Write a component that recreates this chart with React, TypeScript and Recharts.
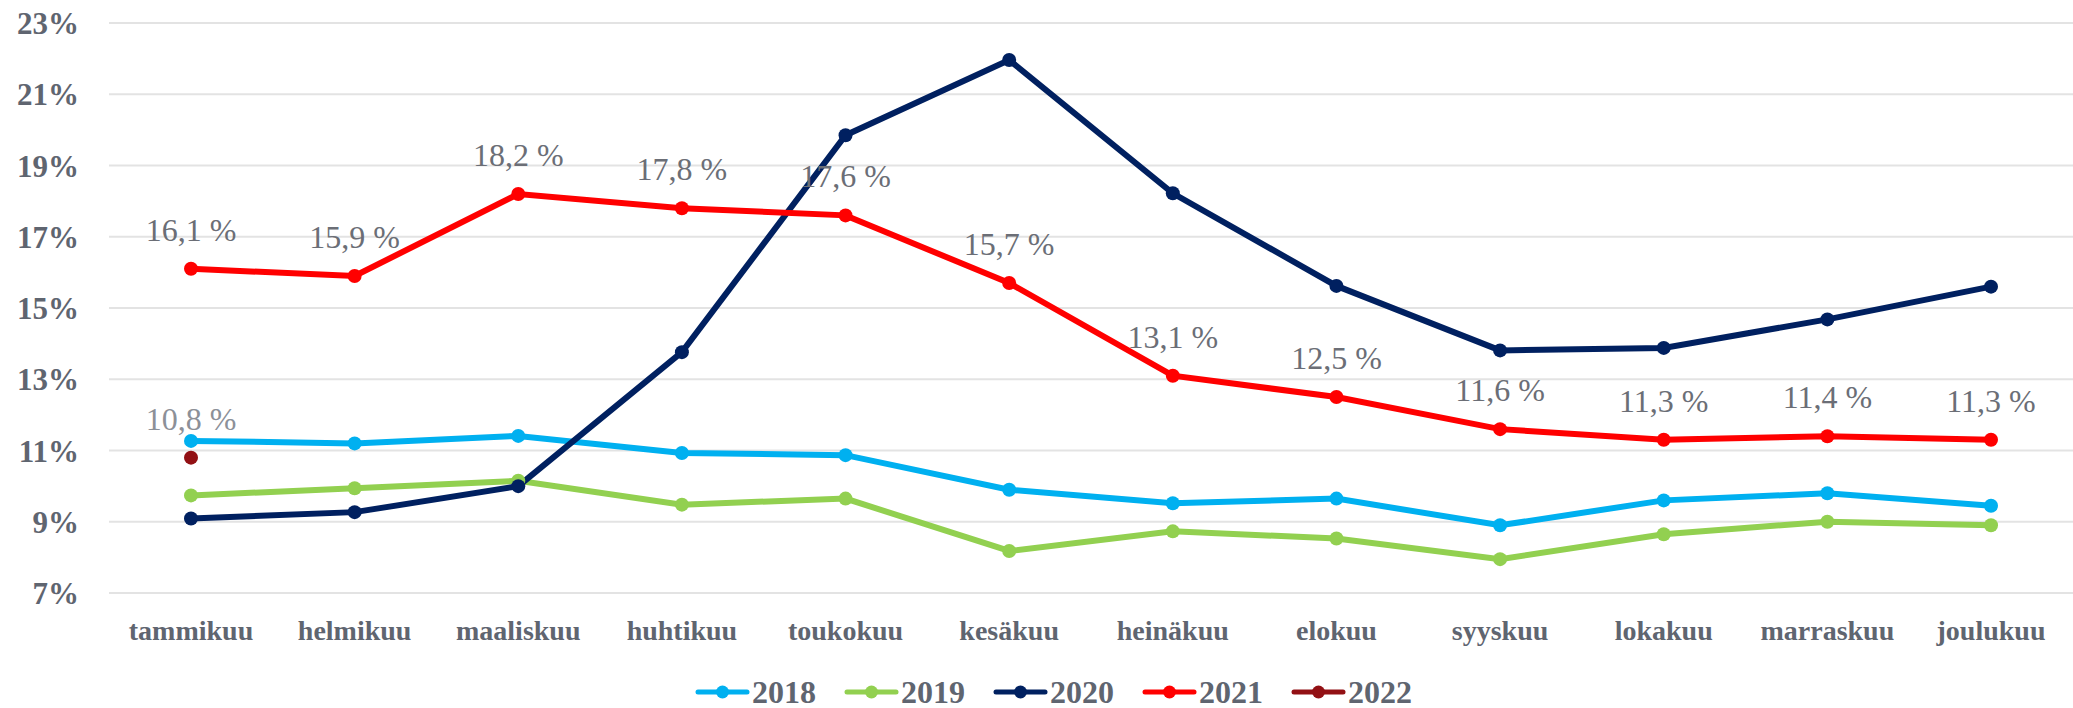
import React from 'react';
import { LineChart, Line, XAxis, YAxis, CartesianGrid, Legend, LabelList } from 'recharts';

const months = ['tammikuu', 'helmikuu', 'maaliskuu', 'huhtikuu', 'toukokuu', 'kesäkuu', 'heinäkuu', 'elokuu', 'syyskuu', 'lokakuu', 'marraskuu', 'joulukuu'];
const v2018 = [11.27, 11.2, 11.41, 10.93, 10.87, 9.9, 9.52, 9.65, 8.9, 9.6, 9.8, 9.45];
const v2019 = [9.74, 9.94, 10.15, 9.48, 9.65, 8.18, 8.73, 8.53, 7.95, 8.65, 9.0, 8.9];
const v2020 = [9.09, 9.27, 10.0, 13.76, 19.85, 21.96, 18.22, 15.62, 13.81, 13.88, 14.68, 15.6];
const v2021 = [16.1, 15.9, 18.2, 17.8, 17.6, 15.7, 13.1, 12.5, 11.6, 11.3, 11.4, 11.3];
const v2022 = [10.8, null, null, null, null, null, null, null, null, null, null, null];
const yTicks = [7, 9, 11, 13, 15, 17, 19, 21, 23];

const series = [
  { key: 'y2018', name: '2018', color: '#00b0f0' },
  { key: 'y2019', name: '2019', color: '#92d050' },
  { key: 'y2020', name: '2020', color: '#002060' },
  { key: 'y2021', name: '2021', color: '#ff0000' },
  { key: 'y2022', name: '2022', color: '#921014' },
];

const data = months.map((m, i) => ({
  month: m,
  y2018: v2018[i],
  y2019: v2019[i],
  y2020: v2020[i],
  y2021: v2021[i],
  y2022: v2022[i],
}));

const FONT = '"Liberation Serif", serif';
const TEXT_GRAY = '#5f6570';

// label above a point, e.g. "16,1 %"
const makeLabel = (color: string) => (props: any) => {
  const { x, y, value } = props;
  if (value == null) return null;
  return (
    <text x={x} y={y - 28} textAnchor="middle" fill={color} fontFamily={FONT} fontSize={32}>
      {Number(value).toFixed(1).replace('.', ',') + ' %'}
    </text>
  );
};

const renderLegend = () => (
  <div style={{ height: 55, boxSizing: 'border-box', paddingTop: 24, paddingLeft: 686, display: 'flex' }}>
    {series.map((s) => (
      <div key={s.key} style={{ display: 'flex', alignItems: 'center', width: 149, height: 30 }}>
        <svg width={55} height={16} style={{ marginRight: 2 }}>
          <line x1={3} y1={8} x2={52} y2={8} stroke={s.color} strokeWidth={5} strokeLinecap="round" />
          <circle cx={27.5} cy={8} r={6.5} fill={s.color} />
        </svg>
        <span style={{ fontFamily: FONT, fontWeight: 'bold', fontSize: 32, color: TEXT_GRAY, lineHeight: '30px' }}>
          {s.name}
        </span>
      </div>
    ))}
  </div>
);

const App: React.FC = () => {
  return (
    <div style={{ position: 'absolute', left: 0, top: 0, width: 2073, height: 708, background: '#fff' }}>
      <LineChart width={2073} height={708} data={data} margin={{ top: 23, right: 0, left: 9, bottom: 0 }}>
        <CartesianGrid horizontal vertical={false} stroke="#e3e3e3" strokeWidth={2} />
        <XAxis
          dataKey="month"
          axisLine={false}
          tickLine={false}
          tickSize={0}
          tickMargin={27}
          height={60}
          interval={0}
          padding={{ left: 82, right: 82 }}
          tick={{ fill: TEXT_GRAY, fontSize: 28, fontWeight: 'bold', fontFamily: FONT }}
        />
        <YAxis
          domain={[7, 23]}
          ticks={yTicks}
          width={100}
          axisLine={false}
          tickLine={false}
          tickSize={0}
          tickMargin={30}
          tickFormatter={(v: number) => `${v}%`}
          tick={{ fill: TEXT_GRAY, fontSize: 31, fontWeight: 'bold', fontFamily: FONT }}
        />
        <Legend verticalAlign="bottom" content={renderLegend} wrapperStyle={{ height: 55 }} />
        {series.map((s) => (
          <Line
            key={s.key}
            type="linear"
            dataKey={s.key}
            name={s.name}
            stroke={s.color}
            strokeWidth={6}
            dot={{ r: 7, fill: s.color, stroke: s.color, strokeWidth: 0 }}
            activeDot={false}
            isAnimationActive={false}
          >
            {s.key === 'y2021' && <LabelList dataKey={s.key} content={makeLabel('#6b6e76')} />}
            {s.key === 'y2022' && <LabelList dataKey={s.key} content={makeLabel('#8c9098')} />}
          </Line>
        ))}
      </LineChart>
    </div>
  );
};

export default App;
